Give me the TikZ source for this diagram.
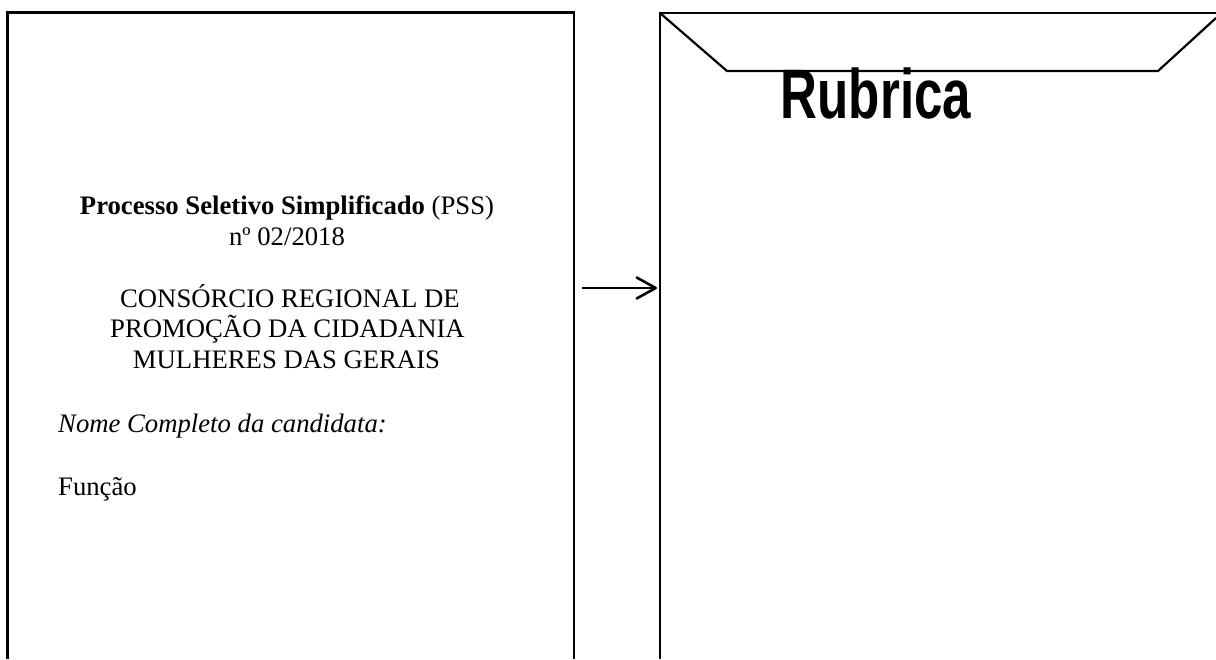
\documentclass[tikz,border=0pt]{standalone}
\usepackage{fontspec}
\setmainfont{Liberation Serif}
\newfontfamily\rubfont{Liberation Sans}
\usetikzlibrary{positioning, arrows.meta}
\tikzset{
    % folhas
    sheet/.style={line width=2.2pt, draw=black},
    flap/.style={line width=2.2pt, draw=black},
    textline/.style={font=\fontsize{26.7}{30}\selectfont, inner sep=0pt, anchor=base},
    % seta
    arrow/.style={
        -{Straight Barb[length=19pt, width=21pt, line width=2.6pt, round]},
        line width=2.6pt
    }
}
\begin{document}
\begin{tikzpicture}[x=1pt, y=-1pt]
    \useasboundingbox (0,0) rectangle (1216,659);
    % Folha esquerda
    \coordinate (la) at (7.5,659); \coordinate (lb) at (7.5,12.5);
    \coordinate (lc) at (574,12.5); \coordinate (ld) at (574,659);
    \draw[sheet] (la) -- (lb) -- (lc) -- (ld);
    % Folha direita
    \coordinate (ra) at (660,659); \coordinate (rb) at (660,13);
    \coordinate (rc) at (1216,13); \coordinate (fa) at (727,71);
    \coordinate (fb) at (1158,71); \coordinate (fc) at (1216,18);
    \draw[flap] (ra) -- (rb) -- (rc);
    \draw[flap] (rb) -- (fa) -- (fb) -- (fc);
    % Textos
    \node[textline] (t1) at (287,214) {\textbf{Processo Seletivo Simplificado} (PSS)};
    \node[textline] (t2) at (287,245) {nº 02/2018};
    \node[textline] (t3) at (290,307) {CONSÓRCIO REGIONAL DE};
    \node[textline] (t4) at (287.5,337) {PROMOÇÃO DA CIDADANIA};
    \node[textline] (t5) at (286.5,368) {MULHERES DAS GERAIS};
    \node[textline, anchor=base west] (t6) at (58,432) {\textit{Nome Completo da candidata:}};
    \node[textline, anchor=base west] (t7) at (58,495) {Função};
    \node[font=\rubfont\bfseries\fontsize{70}{80}\selectfont, inner sep=0pt, anchor=base,
        xscale=0.73, transform shape] (rub) at (876,118.3) {Rubrica};
    % Seta
    \coordinate (s0) at (582,288); \coordinate (s1) at (657,288);
    \draw[arrow] (s0) -- (s1);
\end{tikzpicture}
\end{document}
